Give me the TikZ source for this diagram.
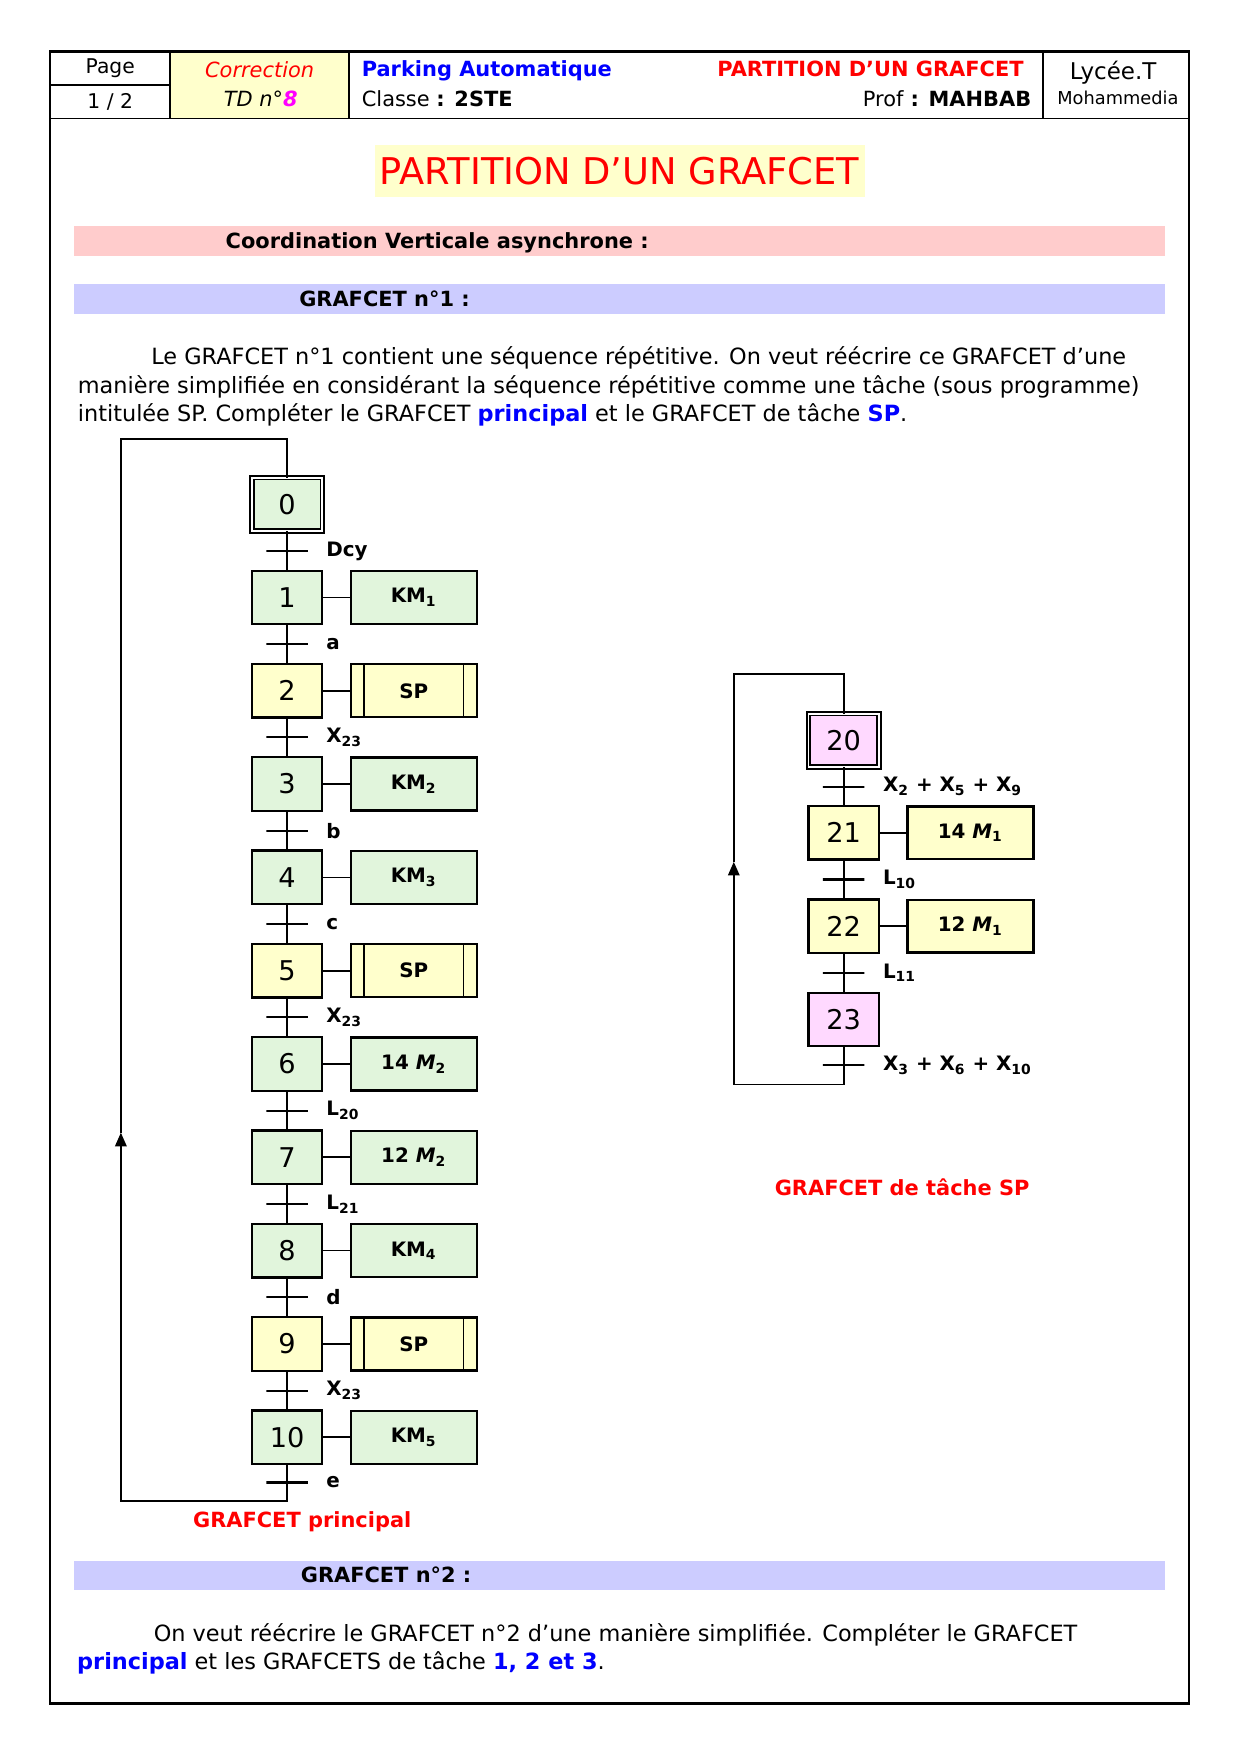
\documentclass[tikz,border=0pt]{standalone}
\usepackage{fontspec}
\setmainfont{DejaVu Sans}
\usepackage{xcolor}
\definecolor{tdgreen}{HTML}{E1F5DC}
\definecolor{tdyellow}{HTML}{FFFFCC}
\definecolor{tdpink}{HTML}{FFD9FF}
\definecolor{tdred}{HTML}{FF0000}
\definecolor{tdblue}{HTML}{0000FF}
\definecolor{tdmagenta}{HTML}{FF00FF}
\definecolor{bandpink}{HTML}{FFCCCC}
\definecolor{bandblue}{HTML}{CCCCFF}
\usepackage{tikz}
\usetikzlibrary{arrows.meta, positioning}
\newcommand{\ix}[1]{\textsubscript{#1}}
\newcommand{\fsz}[1]{\fontsize{#1}{#1}\selectfont}

\begin{document}
\begin{tikzpicture}[
  x=0.535pt, y=-0.535pt,
  node distance=19pt and 13.6pt,
  stepbox/.style={rectangle, draw, line width=1.1pt, fill=tdgreen,
    minimum width=33.7pt, minimum height=25.6pt, inner sep=0pt, outer sep=0pt,
    font=\fsz{13}},
  initstep/.style={stepbox, line width=0.9pt, double, double distance=0.9pt},
  taskstep/.style={stepbox, fill=tdyellow},
  endstep/.style={stepbox, fill=tdpink},
  action/.style={rectangle, draw, line width=1.1pt, fill=tdgreen,
    minimum width=60.2pt, minimum height=25.3pt, inner sep=0pt, outer sep=0pt,
    font=\bfseries\fsz{9.5}},
  spaction/.style={action, fill=tdyellow, path picture={
    \draw[line width=0.8pt] ([xshift=6.4pt]path picture bounding box.north west)
      -- ([xshift=6.4pt]path picture bounding box.south west);
    \draw[line width=0.8pt] ([xshift=-6.4pt]path picture bounding box.north east)
      -- ([xshift=-6.4pt]path picture bounding box.south east);}},
  link/.style={line width=0.8pt},
  tick/.style={draw, line width=1pt, minimum width=19.8pt, minimum height=0pt,
    inner sep=0pt, outer sep=0pt},
  trlab/.style={font=\bfseries\fsz{9.5}, inner sep=0pt, xshift=8.5pt},
  arrow/.style={link, -{Triangle[length=6.5pt, width=5.5pt]}},
  caption/.style={font=\bfseries\fsz{10}, text=tdred},
  hdtext/.style={font=\fsz{10}, inner sep=0pt},
  bandtext/.style={font=\bfseries\fsz{10}, inner sep=0pt, anchor=base west},
  bodytext/.style={font=\fsz{10.7}, inner sep=0pt, anchor=base west}
]
\useasboundingbox (0,0) rectangle (1112,1568);

% page frame and header
\fill[tdyellow] (152,46) rectangle (312,106);
\draw[line width=1pt] (45,46) rectangle (1062,1522);
\draw[line width=0.8pt] (45,106) -- (1062,106);
\draw[line width=0.8pt] (45,76) -- (152,76);
\draw[line width=0.8pt] (152,46) -- (152,106);
\draw[line width=0.8pt] (312,46) -- (312,106);
\draw[line width=0.8pt] (932,46) -- (932,106);
\node[hdtext, anchor=base, font=\fsz{9.7}] (hdpage) at (98.5,65.5) {Page};
\node[hdtext, anchor=base, font=\fsz{9.7}] (hdnum) at (98.5,96.8) {1 / 2};
\node[hdtext, anchor=base, text=tdred] (hdcorr) at (232,69) {\itshape Correction};
\node[hdtext, anchor=base] (hdtd) at (233,95.3) {\itshape TD n°\textcolor{tdmagenta}{\bfseries 8}};
\node[hdtext, anchor=base west, text=tdblue] (hdpark) at (322.9,68.5) {\bfseries Parking Automatique};
\node[hdtext, anchor=base west] (hdclass) at (322.9,95.3) {Classe \textbf{: 2STE}};
\node[hdtext, anchor=base east, text=tdred] (hdpart) at (914.9,68.5) {\bfseries PARTITION D’UN GRAFCET};
\node[hdtext, anchor=base east] (hdprof) at (921.7,95.3) {Prof \textbf{: MAHBAB}};
\node[hdtext, anchor=base, font=\fsz{11}] (hdlycee) at (994.5,70.8) {Lycée.T};
\node[hdtext, anchor=base, font=\fsz{8.5}] (hdcity) at (998.8,93.8) {Mohammedia};

% title and bands
\node[fill=tdyellow, text=tdred, font=\fsz{17.6}, minimum width=234.2pt,
  minimum height=25pt, inner sep=0pt] (title) at (553.5,152.9) {PARTITION D’UN GRAFCET};
\fill[bandpink] (66,202) rectangle (1041,228.4);
\node[bandtext] (band1) at (201.3,221.8) {Coordination Verticale asynchrone :};
\fill[bandblue] (66,254) rectangle (1041,280.2);
\node[bandtext] (band2) at (267,273.9) {GRAFCET n°1 :};
\node[bodytext] (p1a) at (134.9,326) {Le GRAFCET n°1 contient une séquence répétitive. On veut réécrire ce GRAFCET d’une};
\node[bodytext] (p1b) at (69.2,351.3) {manière simplifiée en considérant la séquence répétitive comme une tâche (sous programme)};
\node[bodytext] (p1c) at (69.2,376.6) {intitulée SP. Compléter le GRAFCET \textcolor{tdblue}{\bfseries principal} et le GRAFCET de tâche \textcolor{tdblue}{\bfseries SP}.};

% GRAFCET principal
\node[initstep] (s0) at (256.5,450.7) {0};
\node[stepbox] (s1) at (256.5,533.8) {1};
\node[taskstep, below=of s1] (s2) {2};
\node[stepbox, below=of s2] (s3) {3};
\node[stepbox, below=of s3] (s4) {4};
\node[taskstep, below=of s4] (s5) {5};
\node[stepbox, below=of s5] (s6) {6};
\node[stepbox, below=of s6] (s7) {7};
\node[stepbox, below=of s7] (s8) {8};
\node[taskstep, below=of s8] (s9) {9};
\node[stepbox, below=of s9] (s10) {10};
\node[action, right=of s1] (a1) {KM\ix{1}};
\node[spaction, right=of s2] (a2) {SP};
\node[action, right=of s3] (a3) {KM\ix{2}};
\node[action, right=of s4] (a4) {KM\ix{3}};
\node[spaction, right=of s5] (a5) {SP};
\node[action, right=of s6] (a6) {14 \textit{M}\ix{2}};
\node[action, right=of s7] (a7) {12 \textit{M}\ix{2}};
\node[action, right=of s8] (a8) {KM\ix{4}};
\node[spaction, right=of s9] (a9) {SP};
\node[action, right=of s10] (a10) {KM\ix{5}};
\foreach \s in {1,...,10} \draw[link] (s\s.east) -- (a\s.west);
\draw[link] (s0.south) -- node[tick, label={[trlab]right:Dcy}] (t0) {} (s1.north);
\draw[link] (s1.south) -- node[tick, label={[trlab]right:a}] (t1) {} (s2.north);
\draw[link] (s2.south) -- node[tick, label={[trlab]right:X\ix{23}}] (t2) {} (s3.north);
\draw[link] (s3.south) -- node[tick, label={[trlab]right:b}] (t3) {} (s4.north);
\draw[link] (s4.south) -- node[tick, label={[trlab]right:c}] (t4) {} (s5.north);
\draw[link] (s5.south) -- node[tick, label={[trlab]right:X\ix{23}}] (t5) {} (s6.north);
\draw[link] (s6.south) -- node[tick, label={[trlab]right:L\ix{20}}] (t6) {} (s7.north);
\draw[link] (s7.south) -- node[tick, label={[trlab]right:L\ix{21}}] (t7) {} (s8.north);
\draw[link] (s8.south) -- node[tick, label={[trlab]right:d}] (t8) {} (s9.north);
\draw[link] (s9.south) -- node[tick, label={[trlab]right:X\ix{23}}] (t9) {} (s10.north);
\coordinate (mtop) at (108,392);
\coordinate (mbot) at (108,1341);
\coordinate (marr) at (108,1012);
\draw[arrow] (s10.south) -- node[tick, label={[trlab]right:e}] (t10) {} (s10.south |- mbot) -- (mbot) -- (marr);
\draw[link] (marr) -- (mtop) -| (s0.north);
\node[caption] (capmain) at (270,1360) {GRAFCET principal};

% GRAFCET de tache SP
\node[initstep, fill=tdpink] (s20) at (753.8,661.5) {20};
\node[taskstep] (s21) at (753.8,744.1) {21};
\node[taskstep, below=of s21] (s22) {22};
\node[endstep, below=of s22] (s23) {23};
\node[action, fill=tdyellow, right=of s21] (a21) {14 \textit{M}\ix{1}};
\node[action, fill=tdyellow, right=of s22] (a22) {12 \textit{M}\ix{1}};
\draw[link] (s21.east) -- (a21.west);
\draw[link] (s22.east) -- (a22.west);
\draw[link] (s20.south) -- node[tick, label={[trlab]right:X\ix{2} + X\ix{5} + X\ix{9}}] (t20) {} (s21.north);
\draw[link] (s21.south) -- node[tick, label={[trlab]right:L\ix{10}}] (t21) {} (s22.north);
\draw[link] (s22.south) -- node[tick, label={[trlab]right:L\ix{11}}] (t22) {} (s23.north);
\coordinate (rtop) at (655.6,602);
\coordinate (rbot) at (655.6,969);
\coordinate (rarr) at (655.6,770);
\draw[arrow] (s23.south) -- node[tick, label={[trlab]right:X\ix{3} + X\ix{6} + X\ix{10}}] (t23) {} (s23.south |- rbot) -- (rbot) -- (rarr);
\draw[link] (rarr) -- (rtop) -| (s20.north);
\node[caption] (captask) at (806,1061) {GRAFCET de tâche SP};

% GRAFCET n°2
\fill[bandblue] (66,1394.8) rectangle (1041,1420.8);
\node[bandtext] (band3) at (268.4,1414.2) {GRAFCET n°2 :};
\node[bodytext] (p2a) at (137,1466.3) {On veut réécrire le GRAFCET n°2 d’une manière simplifiée. Compléter le GRAFCET};
\node[bodytext] (p2b) at (68.6,1491.6) {\textcolor{tdblue}{\bfseries principal} et les GRAFCETS de tâche \textcolor{tdblue}{\bfseries 1, 2 et 3}.};
\end{tikzpicture}
\end{document}
